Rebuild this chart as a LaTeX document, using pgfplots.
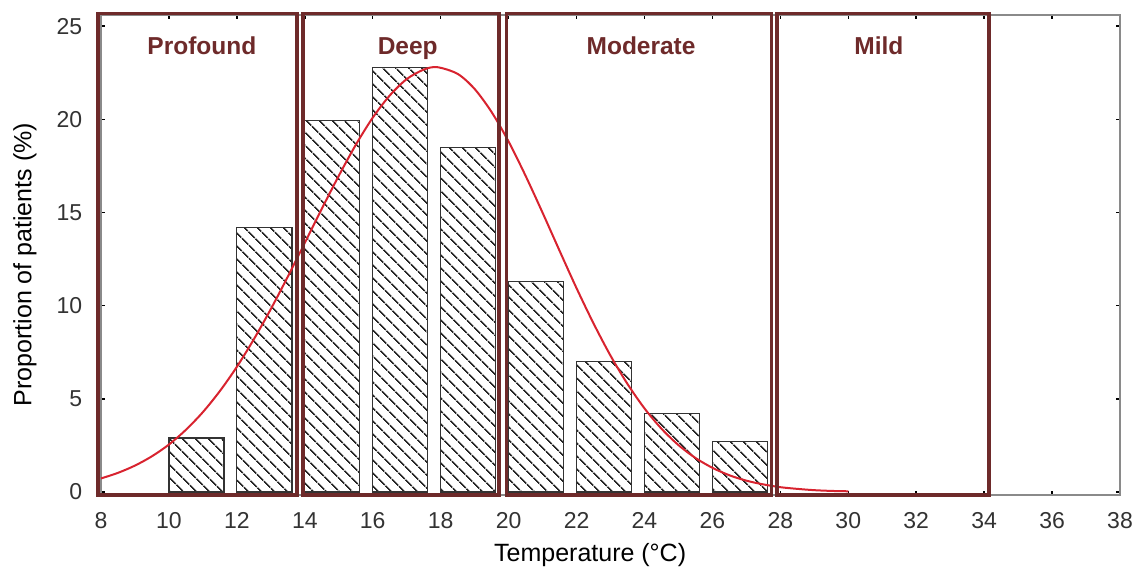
\documentclass[border=0pt]{standalone}
\usepackage{pgfplots}
\pgfplotsset{compat=1.18}
\usepackage{fontspec}
\setmainfont{Liberation Sans}
\usetikzlibrary{patterns.meta}

\definecolor{boxred}{HTML}{6E2A2A}
\definecolor{curvered}{HTML}{D8232F}
\definecolor{framegray}{HTML}{8A8A8A}
\definecolor{txt}{HTML}{333333}

\begin{document}
\begin{tikzpicture}
  \begin{axis}[
    name=ax,
    scale only axis,
    width=407.6pt, height=192pt,
    xmin=8, xmax=38, ymin=-0.16, ymax=25.6,
    xtick={8,10,...,38},
    ytick={0,5,...,25},
    axis line style={framegray, line width=0.6pt},
    major tick length=1.6pt,
    tick style={black, line width=0.6pt},
    tick label style={font=\fontsize{9.2}{10}\selectfont, text=txt},
    /pgf/number format/assume math mode=true,
    xticklabel style={yshift=-3.5pt, inner xsep=0pt},
    yticklabel style={xshift=-4pt},
    xlabel={Temperature (°C)},
    ylabel={Proportion of patients (\%)},
    label style={font=\fontsize{9.3}{10}\selectfont, text=txt, inner sep=0pt},
    every axis x label/.style={at={(axis description cs:0.48,-0.125)}, anchor=center},
    every axis y label/.style={at={(axis description cs:-0.0746,0.48)}, rotate=90, anchor=center},
    clip=false,
  ]
    % histogram bars (left edge at the even value, width 1.62)
    \addplot[ybar, bar width=1.62, draw=black!80, line width=0.5pt, fill=white,
      postaction={pattern={Lines[angle=-45,distance=4pt,line width=0.65pt]}, pattern color=black!85}]
      coordinates {(10.81,2.9) (12.81,14.2) (14.81,19.95) (16.81,22.8) (18.81,18.5)
                   (20.81,11.3) (22.81,7.0) (24.81,4.2) (26.81,2.7)};

    % fitted curve
    \addplot[curvered, line width=0.8pt, smooth, no marks] coordinates {
      (8,0.73) (8.5,1.03) (9,1.42) (9.5,1.92) (10,2.55) (10.5,3.34) (11,4.29)
      (11.5,5.42) (12,6.72) (12.5,8.20) (13,9.82) (13.5,11.56) (14,13.37)
      (14.5,15.20) (15,16.97) (15.5,18.63) (16,20.09) (16.5,21.28) (17,22.16)
      (17.5,22.67) (17.9,22.8) (18.5,22.44) (19,21.63) (19.5,20.39) (20,18.81)
      (20.5,16.97) (21,14.99) (21.5,12.95) (22,10.94) (22.5,9.05) (23,7.32)
      (23.5,5.80) (24,4.49) (24.5,3.40) (25,2.52) (25.5,1.83) (26,1.30)
      (26.5,0.90) (27,0.61) (27.5,0.41) (28,0.26) (28.5,0.17) (29,0.10)
      (29.5,0.06) (30,0.04)};

    % category boxes
    \draw[boxred, line width=1.5pt] (axis cs:7.91,-0.16) rectangle (axis cs:13.76,25.68);
    \draw[boxred, line width=1.5pt] (axis cs:13.94,-0.16) rectangle (axis cs:19.71,25.68);
    \draw[boxred, line width=1.5pt] (axis cs:19.94,-0.16) rectangle (axis cs:27.74,25.68);
    \draw[boxred, line width=1.5pt] (axis cs:27.91,-0.16) rectangle (axis cs:34.15,25.68);

    \node[anchor=base, text=boxred, font=\fontsize{9.8}{11}\selectfont\bfseries] at (axis cs:10.97,23.5) {Profound};
    \node[anchor=base, text=boxred, font=\fontsize{9.8}{11}\selectfont\bfseries] at (axis cs:17.03,23.5) {Deep};
    \node[anchor=base, text=boxred, font=\fontsize{9.8}{11}\selectfont\bfseries] at (axis cs:23.90,23.5) {Moderate};
    \node[anchor=base, text=boxred, font=\fontsize{9.8}{11}\selectfont\bfseries] at (axis cs:30.90,23.5) {Mild};
  \end{axis}
  \path (ax.south west) ++(-40.4pt,-29.6pt) coordinate (bbsw);
  \path (ax.north east) ++(5.6pt,6pt) coordinate (bbne);
  \path (bbsw) rectangle (bbne);
\end{tikzpicture}
\end{document}
